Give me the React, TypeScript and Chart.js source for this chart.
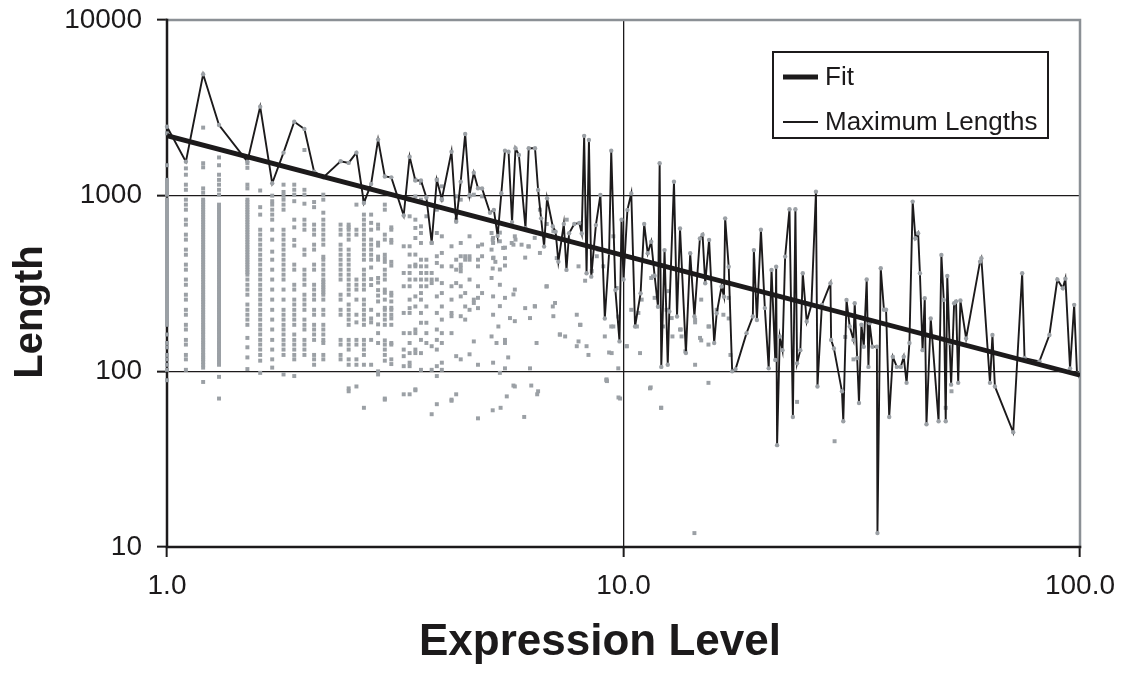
import { useEffect, useRef } from "react";
import { Chart, registerables } from "chart.js";

Chart.register(...registerables);

// ---------- data ----------
const xTicks = [1, 10, 100];
const yTicks = [10, 100, 1000, 10000];

const fitX = [1, 100];
const fitY = [2195, 95];

const maxX = [
  1.0, 1.1, 1.2, 1.3, 1.5, 1.6, 1.7, 1.8, 1.9, 2.0, 2.1, 2.2, 2.4, 2.5, 2.6, 2.7, 2.8, 2.9, 3.0, 3.1,
  3.3, 3.4, 3.5, 3.6, 3.7, 3.8, 3.9, 4.0, 4.2, 4.3, 4.4, 4.5, 4.6, 4.7, 4.8, 4.9, 5.1, 5.2, 5.3, 5.4,
  5.5, 5.6, 5.7, 5.8, 5.9, 6.1, 6.2, 6.4, 6.5, 6.6, 6.7, 6.8, 7.0, 7.1, 7.2, 7.4, 7.5, 7.6, 7.8, 8.0,
  8.1, 8.2, 8.3, 8.4, 8.5, 8.7, 8.9, 9.1, 9.3, 9.4, 9.6, 9.8, 9.9, 10.0, 10.2, 10.4, 10.6, 10.9, 11.1, 11.3,
  11.5, 11.7, 11.9, 12.0, 12.1, 12.3, 12.5, 12.6, 12.9, 13.1, 13.3, 13.7, 14.0, 14.3, 14.7, 14.9, 15.1, 15.4, 15.8, 16.0,
  16.4, 16.6, 16.7, 17.0, 17.3, 17.6, 18.6, 19.2, 19.3, 19.6, 20.0, 20.4, 20.8, 21.1, 21.5, 21.6, 21.7, 22.0, 22.3, 22.6,
  23.1, 23.5, 23.8, 24.0, 24.4, 24.7, 25.2, 25.8, 26.4, 26.6, 27.2, 28.4, 28.5, 28.9, 30.1, 30.3, 30.8, 31.3, 31.9, 32.1,
  32.5, 32.8, 33.2, 33.6, 34.1, 34.4, 34.6, 35.1, 35.9, 36.0, 36.6, 37.2, 37.6, 38.2, 38.9, 39.7, 40.5, 41.1, 41.7, 42.3,
  43.0, 43.6, 44.2, 44.6, 45.2, 45.7, 46.1, 47.1, 49.0, 49.7, 50.3, 50.8, 51.2, 51.8, 52.2, 53.0, 53.5, 54.1, 54.7, 56.3,
  60.4, 60.8, 63.5, 64.3, 65.1, 71.4, 74.7, 75.6, 81.5, 85.7, 89.2, 91.7, 92.9, 95.1, 97.1, 98.5, 100, 101,
];
const maxY = [
  2470, 1562, 4910, 2525, 1562, 3211, 1177, 1758, 2636, 2397, 1371, 1271, 1570, 1536, 1758, 909, 1166, 2085, 1286, 1271,
  771, 1667, 1220, 1220, 977, 540, 1230, 954, 1780, 711, 1202, 2244, 1009, 1352, 1103, 1100, 800, 829, 590, 1032,
  1804, 1780, 707, 1862, 1704, 652, 1862, 1862, 1078, 743, 513, 967, 667, 624, 421, 690, 378, 611, 690, 700,
  610, 2190, 362, 2075, 346, 680, 1010, 200, 474, 1804, 290, 148, 730, 333, 830, 1030, 180, 278, 690, 470,
  547, 350, 233, 1530, 106, 490, 109, 219, 1200, 205, 650, 127, 470, 205, 570, 600, 317, 560, 145, 214,
  304, 266, 743, 394, 100, 103, 165, 205, 490, 196, 640, 229, 104, 378, 116, 394, 38, 158, 132, 450,
  837, 55, 837, 111, 132, 362, 192, 239, 1054, 82, 239, 317, 151, 135, 77, 52, 255, 180, 151, 244,
  119, 66, 184, 138, 333, 106, 188, 138, 138, 12, 386, 224, 224, 55, 121, 106, 106, 121, 86, 145,
  925, 572, 611, 362, 132, 261, 50, 200, 52, 460, 255, 52, 349, 145, 84, 244, 250, 86, 253, 154,
  421, 440, 86, 161, 82, 45, 362, 119, 114, 161, 333, 297, 337, 104, 239, 97, 93, 72,
];

// dense columns of individual lengths at low expression levels
const colX = [
  1.0, 1.1, 1.2, 1.3, 1.5, 1.6, 1.7, 1.8, 1.9, 2.0, 2.1, 2.2, 2.4, 2.5, 2.6, 2.7, 2.8, 2.9, 3.0, 3.1,
  3.3, 3.4, 3.5, 3.6, 3.7, 3.8, 3.9, 4.0, 4.2, 4.3, 4.4, 4.5, 4.6, 4.7, 4.8, 4.9,
];
const colY = [
  [2265, 1490, 1230, 1190, 1155, 1120, 1080, 1050, 1013, 949, 919, 889, 860, 832, 806, 780, 755, 730, 707, 684, 662, 640, 620, 600, 581, 562, 544, 526, 509, 493, 477, 461, 446, 432, 418, 405, 392, 379, 367, 355, 344, 333, 322, 311, 301, 292, 282, 273, 264, 256, 248, 240, 232, 224, 217, 210, 203, 197, 190, 184, 162, 145, 137, 124, 117, 109, 102, 89],
  [1430, 1316, 1155, 1080, 949, 889, 832, 730, 684, 600, 562, 493, 461, 405, 379, 333, 311, 273, 256, 224, 210, 184, 173, 151, 142, 124, 117, 102],
  [2440, 1530, 1450, 1100, 1040, 949, 919, 889, 860, 832, 806, 780, 755, 730, 707, 684, 662, 640, 620, 600, 581, 562, 544, 526, 509, 493, 477, 461, 446, 432, 418, 405, 392, 379, 367, 355, 344, 333, 322, 311, 301, 292, 282, 273, 264, 256, 248, 240, 232, 224, 217, 210, 203, 197, 190, 184, 178, 173, 167, 162, 156, 151, 146, 142, 137, 133, 128, 124, 120, 117, 113, 109, 105, 87],
  [1650, 1490, 1316, 1230, 1155, 1080, 1013, 889, 860, 832, 806, 780, 755, 730, 707, 684, 662, 640, 620, 600, 581, 562, 544, 526, 509, 493, 477, 461, 446, 432, 418, 405, 392, 379, 367, 355, 344, 333, 322, 311, 301, 292, 282, 273, 264, 256, 248, 240, 232, 224, 217, 210, 203, 197, 190, 184, 178, 173, 167, 162, 156, 151, 146, 142, 137, 133, 128, 124, 120, 117, 113, 109, 93, 70],
  [1530, 1440, 1155, 1100, 949, 919, 889, 860, 832, 806, 780, 755, 730, 707, 684, 662, 640, 620, 600, 581, 562, 544, 526, 509, 493, 477, 461, 446, 432, 418, 405, 392, 379, 367, 355, 333, 311, 292, 273, 240, 224, 210, 197, 184, 155, 137, 120, 103],
  [1070, 860, 780, 640, 600, 562, 526, 493, 461, 432, 405, 379, 355, 333, 311, 292, 273, 256, 240, 224, 210, 197, 184, 173, 162, 151, 142, 133, 124, 115, 98],
  [1000, 930, 889, 832, 780, 730, 640, 562, 480, 432, 379, 333, 292, 256, 224, 197, 173, 151, 133, 117, 105],
  [1155, 1050, 1000, 949, 889, 832, 640, 600, 562, 526, 493, 461, 432, 405, 379, 355, 333, 292, 256, 224, 210, 197, 184, 173, 162, 151, 142, 133, 124, 96],
  [1155, 1080, 1013, 930, 730, 660, 560, 520, 405, 379, 311, 292, 256, 240, 224, 210, 197, 184, 162, 151, 142, 133, 124, 117, 94],
  [1820, 1080, 1013, 900, 730, 684, 640, 493, 461, 379, 355, 333, 311, 273, 256, 240, 224, 197, 184, 173, 151, 142, 133, 124],
  [920, 860, 684, 640, 600, 526, 493, 405, 379, 311, 292, 273, 256, 224, 210, 184, 173, 162, 151, 124, 117, 109],
  [1013, 949, 800, 730, 684, 640, 600, 562, 526, 449, 432, 405, 379, 355, 333, 322, 311, 301, 292, 282, 273, 256, 224, 210, 184, 173, 162, 151, 145, 124, 117],
  [684, 640, 600, 526, 493, 461, 432, 405, 379, 355, 333, 273, 256, 224, 210, 151, 142, 124, 117],
  [684, 660, 640, 600, 562, 493, 461, 432, 405, 379, 355, 333, 311, 292, 273, 240, 224, 210, 197, 184, 151, 142, 133, 117, 109, 80, 77],
  [889, 640, 600, 333, 311, 292, 256, 210, 190, 151, 142, 117, 109, 82],
  [949, 780, 730, 684, 640, 600, 562, 526, 493, 461, 432, 379, 355, 333, 311, 292, 256, 240, 224, 210, 197, 184, 151, 142, 133, 124, 109, 62],
  [780, 700, 640, 562, 526, 493, 461, 432, 390, 335, 310, 224, 200, 190, 151, 109],
  [684, 650, 540, 520, 450, 432, 340, 320, 290, 270, 250, 210, 185, 165, 145, 100, 96],
  [889, 832, 600, 562, 461, 440, 420, 379, 355, 333, 292, 280, 256, 230, 224, 210, 197, 184, 150, 142, 133, 124, 115, 70, 69],
  [660, 640, 560, 540, 420, 400, 280, 270, 250, 230, 224, 210, 200, 184, 145, 142, 117, 110],
  [515, 363, 305, 215, 165, 133, 122, 107, 74],
  [949, 763, 515, 462, 396, 363, 333, 305, 256, 229, 215, 165, 145, 127, 112, 107, 74],
  [1233, 991, 730, 655, 574, 462, 405, 396, 333, 267, 234, 173, 165, 133, 127, 79, 78],
  [1181, 949, 669, 613, 538, 432, 396, 363, 333, 305, 279, 256, 215, 189, 151, 127, 102],
  [763, 432, 396, 363, 333, 305, 234, 189, 165, 145],
  [538, 363, 333, 318, 139, 102, 57],
  [1233, 832, 613, 452, 414, 333, 267, 215, 173, 151, 133, 107, 94, 65],
  [1130, 949, 587, 472, 396, 318, 279, 234, 197, 165, 145, 112, 102],
  [515, 396, 305, 256, 215, 206, 165, 69, 68],
  [991, 797, 730, 432, 379, 318, 122, 74],
  [949, 538, 452, 405, 388, 371, 305, 267, 206, 117],
  [452, 432, 279, 234, 197],
  [991, 587, 452, 432, 333, 224, 125],
  [1013, 256, 245, 148],
  [515, 432, 396, 305, 262, 229, 109, 54],
  [991, 527, 452, 279],
];

// scattered individual lengths at higher expression levels
const looseX = [
  5.14, 5.18, 5.18, 5.14, 5.36, 5.45, 5.5, 5.18, 5.69, 5.78, 5.98, 6.19, 6.39, 6.56, 5.14, 5.36, 5.18, 5.5, 5.78, 5.36,
  5.18, 5.64, 5.32, 5.78, 6.24, 5.14, 5.5, 5.27, 5.5, 5.59, 5.18, 5.36, 5.5, 5.78, 5.55, 6.09, 6.39, 6.45, 6.24, 6.5,
  6.79, 7.08, 7.02, 7.26, 7.45, 7.9, 8.03, 7.97, 7.9, 8.38, 9.18, 9.1, 9.5, 9.42, 9.74, 9.74, 9.83, 10.17, 10.4, 10.87,
  11.43, 10.78, 10.96, 11.5, 11.7, 12.43, 12.55, 12.2, 12.75, 13.3, 14.35, 14.35, 14.71, 15.35, 15.35, 15.35, 16.0, 16.55, 17.0, 17.15,
  13.4, 13.66, 14.8, 9.2, 12.1, 14.3, 24.0, 29.0, 52.3, 50.8, 5.17, 5.38, 6.06, 5.74, 6.28, 6.47, 9.17, 9.75, 11.47, 12.08,
  5.17, 5.36, 5.5, 5.74, 5.8, 6.09, 6.2, 5.19, 5.24, 5.5, 5.36, 5.17, 5.74, 6.4, 6.78, 7.0, 8.05, 7.25, 8.3, 9.4,
  9.3, 10.15, 10.7, 11.6, 12.8, 13.35, 14.35, 15.4, 14.8, 17.0, 30.6, 31.9, 6.79, 7.02, 7.57, 7.97, 8.24, 8.52, 8.81, 9.03,
  9.5, 9.66, 8.74, 6.56, 6.9, 7.14, 7.51,
];
const looseY = [
  613, 575, 538, 493, 550, 504, 441, 441, 538, 587, 526, 515, 575, 472, 340, 311, 267, 262, 292, 235,
  210, 201, 180, 193, 201, 158, 151, 145, 145, 120, 112, 98, 104, 82, 72, 229, 235, 145, 104, 77,
  305, 245, 206, 162, 158, 210, 184, 148, 139, 124, 90, 158, 180, 127, 205, 104, 70, 139, 224, 127,
  80, 215, 256, 340, 262, 224, 286, 180, 201, 173, 197, 109, 155, 180, 142, 86, 224, 210, 262, 124,
  158, 130, 256, 88, 62, 12, 67, 40, 77, 62, 60, 62, 55, 83, 83, 74, 89, 71, 81, 62,
  562, 616, 506, 526, 562, 444, 513, 444, 420, 400, 380, 385, 274, 234, 304, 234, 184, 162, 139, 180,
  128, 139, 180, 347, 158, 173, 190, 180, 150, 200, 157, 117, 690, 627, 562, 396, 328, 372, 493, 396,
  587, 298, 452, 832, 587, 441, 730,
];

// ---------- look ----------
const FONT = "'Liberation Sans', Arial, sans-serif";
const INK = "#1c1a1b";
const DOT = "#9ba0a5";
const FRAME_GRAY = "#8b9095";

export default function App() {
  const canvasRef = useRef<HTMLCanvasElement | null>(null);

  useEffect(() => {
    document.body.style.margin = "0";
    const canvas = canvasRef.current;
    if (!canvas) return;

    const scatterPts: { x: number; y: number }[] = [];
    colX.forEach((x, i) => colY[i].forEach((y) => scatterPts.push({ x, y })));
    looseX.forEach((x, i) => scatterPts.push({ x, y: looseY[i] }));
    const maxPts = maxX.map((x, i) => ({ x, y: maxY[i] }));
    const fitPts = fitX.map((x, i) => ({ x, y: fitY[i] }));

    const framePlugin = {
      id: "frame",
      beforeDatasetsDraw(chart: any) {
        const { ctx, chartArea: a } = chart;
        ctx.save();
        ctx.lineCap = "square";
        ctx.lineWidth = 2.5;
        ctx.strokeStyle = FRAME_GRAY;
        ctx.beginPath();
        ctx.moveTo(a.left, a.top);
        ctx.lineTo(a.right, a.top);
        ctx.lineTo(a.right, a.bottom);
        ctx.stroke();
        ctx.strokeStyle = INK;
        ctx.beginPath();
        ctx.moveTo(a.left, a.top);
        ctx.lineTo(a.left, a.bottom);
        ctx.lineTo(a.right, a.bottom);
        ctx.stroke();
        ctx.restore();
      },
      afterDraw(chart: any) {
        const { ctx } = chart;
        ctx.save();
        // axis titles
        ctx.fillStyle = INK;
        ctx.textAlign = "center";
        ctx.textBaseline = "middle";
        ctx.font = `bold 44px ${FONT}`;
        ctx.fillText("Expression Level", 600, 643);
        ctx.font = `bold 40px ${FONT}`;
        ctx.translate(31, 312);
        ctx.rotate(-Math.PI / 2);
        ctx.fillText("Length", 0, 0);
        ctx.restore();

        // legend
        ctx.save();
        const bx = 773, by = 52, bw = 275, bh = 86;
        ctx.fillStyle = "#ffffff";
        ctx.fillRect(bx, by, bw, bh);
        ctx.lineWidth = 2;
        ctx.strokeStyle = INK;
        ctx.strokeRect(bx, by, bw, bh);
        const entries = chart.data.datasets.filter((d: any) => d.label && d.label !== "Lengths");
        entries.forEach((d: any, i: number) => {
          const yy = by + 25 + i * 45;
          ctx.strokeStyle = INK;
          ctx.lineWidth = d.borderWidth;
          ctx.lineCap = "butt";
          ctx.beginPath();
          ctx.moveTo(bx + 10, yy);
          ctx.lineTo(bx + 45, yy);
          ctx.stroke();
          ctx.fillStyle = INK;
          ctx.font = `26px ${FONT}`;
          ctx.textAlign = "left";
          ctx.textBaseline = "middle";
          ctx.fillText(d.label, bx + 52, yy + 1);
        });
        ctx.restore();
      },
    };

    const chart = new Chart(canvas, {
      type: "scatter",
      data: {
        datasets: [
          {
            label: "Fit",
            data: fitPts,
            showLine: true,
            borderColor: INK,
            borderWidth: 4.8,
            pointRadius: 0,
            clip: 0,
          } as any,
          {
            label: "Maximum Lengths",
            data: maxPts,
            showLine: true,
            borderColor: INK,
            borderWidth: 1.9,
            pointRadius: 2.2,
            pointStyle: "circle",
            pointBackgroundColor: DOT,
            pointBorderWidth: 0,
            clip: { left: 4, top: 4, right: 0, bottom: 4 },
          } as any,
          {
            label: "Lengths",
            data: scatterPts,
            pointStyle: "rect",
            pointRadius: 2.8,
            backgroundColor: DOT,
            borderWidth: 0,
            clip: 4,
          } as any,
        ],
      },
      options: {
        animation: false,
        responsive: false,
        devicePixelRatio: 1,
        layout: { padding: { top: 20, right: 47, left: 0, bottom: 0 } },
        plugins: { legend: { display: false }, tooltip: { enabled: false } },
        scales: {
          x: {
            type: "logarithmic",
            min: 1,
            max: 100,
            afterBuildTicks: (s: any) => {
              s.ticks = xTicks.map((v) => ({ value: v }));
            },
            afterFit: (s: any) => {
              s.height = 130;
              s.paddingLeft = 0;
              s.paddingRight = 0;
            },
            ticks: {
              callback: (v: any) => Number(v).toFixed(1),
              font: { size: 28, family: FONT },
              color: INK,
              padding: 12,
              maxRotation: 0,
              autoSkip: false,
            },
            grid: {
              color: (c: any) => (c.tick && c.tick.value === 10 ? INK : "rgba(0,0,0,0)"),
              lineWidth: 1.3,
              tickColor: INK,
              tickLength: 10,
              tickWidth: 2,
            },
            border: { display: false },
          },
          y: {
            type: "logarithmic",
            min: 10,
            max: 10000,
            afterBuildTicks: (s: any) => {
              s.ticks = yTicks.map((v) => ({ value: v }));
            },
            afterFit: (s: any) => {
              s.width = 167;
              s.paddingTop = 0;
              s.paddingBottom = 0;
            },
            ticks: {
              callback: (v: any) => String(v),
              font: { size: 28, family: FONT },
              color: INK,
              padding: 15,
              autoSkip: false,
            },
            grid: {
              color: (c: any) =>
                c.tick && (c.tick.value === 100 || c.tick.value === 1000) ? INK : "rgba(0,0,0,0)",
              lineWidth: 1.3,
              tickColor: INK,
              tickLength: 10,
              tickWidth: 2,
            },
            border: { display: false },
          },
        },
      },
      plugins: [framePlugin],
    } as any);

    return () => chart.destroy();
  }, []);

  return (
    <div style={{ width: 1127, height: 677, background: "#ffffff" }}>
      <canvas ref={canvasRef} width={1127} height={677} style={{ display: "block", width: 1127, height: 677 }} />
    </div>
  );
}
